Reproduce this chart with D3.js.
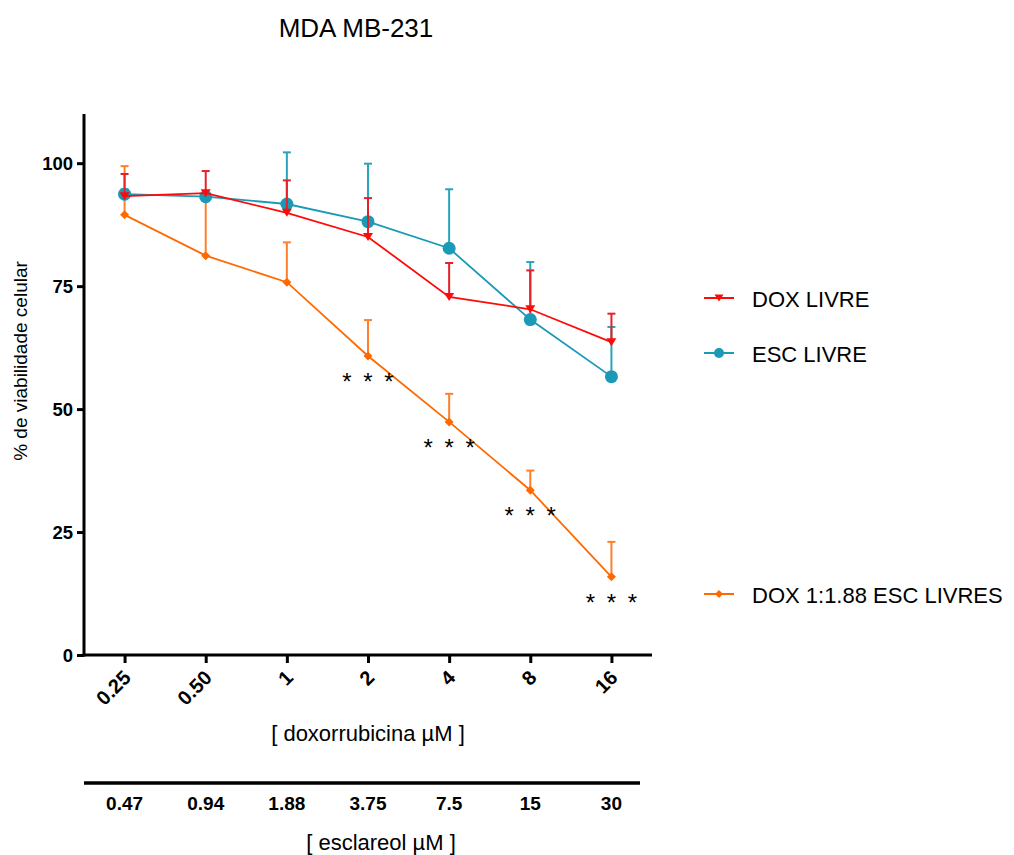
<!DOCTYPE html>
<html><head><meta charset="utf-8">
<script src="https://cdn.jsdelivr.net/npm/d3@7"></script>
<style>body{margin:0;background:#fff;} text{font-family:Arial,"Liberation Sans",sans-serif;}</style>
</head><body>
<svg id="c" width="1014" height="855"></svg>
<script>
const categories = ["0.25","0.50","1","2","4","8","16"];
const esclareolLabels = ["0.47","0.94","1.88","3.75","7.5","15","30"];
const yTicks = [0,25,50,75,100];
const doxLivre = [93.3,93.9,89.9,85.0,72.8,70.3,63.6];
const doxLivreErr = [4.5,4.5,6.6,7.9,6.9,7.9,5.8];
const escLivre = [93.7,93.2,91.7,88.1,82.7,68.2,56.6];
const escLivreErr = [1.0,0.8,10.5,11.8,12.0,11.7,10.1];
const doxEsc = [89.5,81.2,75.8,60.8,47.4,33.5,15.9];
const doxEscErr = [9.9,11.2,8.1,7.3,5.7,4.0,7.1];
const sigFlags = [false,false,false,true,true,true,true];

const svg = d3.select("#c");
const FF = "Arial,'Liberation Sans',sans-serif";
const x = d3.scalePoint().domain(categories).range([84,652]).padding(0.5);
const y = d3.scaleLinear().domain([0,110]).range([655,114]);

const series = [
  {name:"DOX 1:1.88 ESC LIVRES", vals:doxEsc, err:doxEscErr, color:"#ff6a00", ecolor:"#ff7f2a", shape:"diamond", legY:594},
  {name:"ESC LIVRE", vals:escLivre, err:escLivreErr, color:"#1a9ab6", ecolor:"#2aa3bd", shape:"circle", legY:353},
  {name:"DOX LIVRE", vals:doxLivre, err:doxLivreErr, color:"#ff0a0a", ecolor:"#e5202a", shape:"triangle", legY:298}
];

function marker(g, s, cx, cy, big){
  if(s.shape==="circle"){
    g.append("circle").attr("cx",cx).attr("cy",cy).attr("r",big?6.5:5).attr("fill",s.color);
  } else if(s.shape==="triangle"){
    const w=big?5:4.5, h=big?8:7;
    g.append("path").attr("d",`M${cx-w},${cy-h/2}L${cx+w},${cy-h/2}L${cx},${cy+h/2}Z`).attr("fill",s.color);
  } else {
    const r=big?4.5:4;
    g.append("path").attr("d",`M${cx},${cy-r}L${cx+r},${cy}L${cx},${cy+r}L${cx-r},${cy}Z`).attr("fill",s.color);
  }
}

series.forEach(s=>{
  const g = svg.append("g");
  s.vals.forEach((v,i)=>{
    const cx=x(categories[i]), top=y(v+s.err[i]);
    g.append("line").attr("x1",cx).attr("x2",cx).attr("y1",y(v)).attr("y2",top).attr("stroke",s.ecolor).attr("stroke-width",2);
    g.append("line").attr("x1",cx-4).attr("x2",cx+4).attr("y1",top).attr("y2",top).attr("stroke",s.ecolor).attr("stroke-width",2);
  });
  const line = d3.line().x((d,i)=>x(categories[i])).y(d=>y(d));
  g.append("path").datum(s.vals).attr("d",line).attr("fill","none").attr("stroke",s.color).attr("stroke-width",1.8);
  s.vals.forEach((v,i)=>marker(g,s,x(categories[i]),y(v),true));
  const lg = svg.append("g");
  lg.append("line").attr("x1",704).attr("x2",734).attr("y1",s.legY).attr("y2",s.legY).attr("stroke",s.color).attr("stroke-width",2);
  marker(lg,s,719,s.legY,false);
  lg.append("text").attr("x",752).attr("y",s.legY+8.5).attr("font-size",22).attr("fill","#000").text(s.name);
});

doxEsc.forEach((v,i)=>{
  if(!sigFlags[i]) return;
  const cx=x(categories[i]);
  [-21,0,21].forEach(dx=>{
    svg.append("text").attr("x",cx+dx).attr("y",y(v)+34).attr("text-anchor","middle").attr("font-size",24).text("*");
  });
});

const ya = svg.append("g").attr("transform","translate(84,0)").call(d3.axisLeft(y).tickValues(yTicks).tickSize(7).tickPadding(4));
ya.select(".domain").attr("stroke","#000").attr("stroke-width",3).attr("d","M0,114V656.5");
ya.selectAll(".tick line").attr("stroke-width",3);
ya.selectAll(".tick text").attr("font-size",18.5).attr("font-weight","bold").attr("fill","#000").attr("font-family",FF).attr("dy","0.36em");

const xa = svg.append("g").attr("transform","translate(0,655)").call(d3.axisBottom(x).tickSize(8));
xa.select(".domain").attr("stroke","#000").attr("stroke-width",3).attr("d","M82.5,0H652");
xa.selectAll(".tick line").attr("stroke-width",3);
xa.selectAll(".tick text").attr("font-size",20).attr("font-weight","bold").attr("fill","#000")
  .attr("font-family",FF)
  .attr("text-anchor","end").attr("dy",null).attr("y",0)
  .attr("transform","translate(7,24) rotate(-45)");

svg.append("line").attr("x1",84).attr("x2",640).attr("y1",783).attr("y2",783).attr("stroke","#000").attr("stroke-width",3.5);
svg.append("g").selectAll("text").data(esclareolLabels).join("text")
  .attr("x",(d,i)=>x(categories[i])).attr("y",810).attr("text-anchor","middle")
  .attr("font-size",19).attr("font-weight","bold").text(d=>d);

svg.append("text").attr("x",356).attr("y",37).attr("text-anchor","middle").attr("font-size",26).text("MDA MB-231");
svg.append("text").attr("x",368).attr("y",741).attr("text-anchor","middle").attr("font-size",22).text("[ doxorrubicina µM ]");
svg.append("text").attr("x",381).attr("y",850).attr("text-anchor","middle").attr("font-size",22).text("[ esclareol µM ]");
svg.append("text").attr("transform","translate(27,361) rotate(-90)").attr("text-anchor","middle").attr("font-size",19).text("% de viabilidade celular");
</script>
</body></html>
